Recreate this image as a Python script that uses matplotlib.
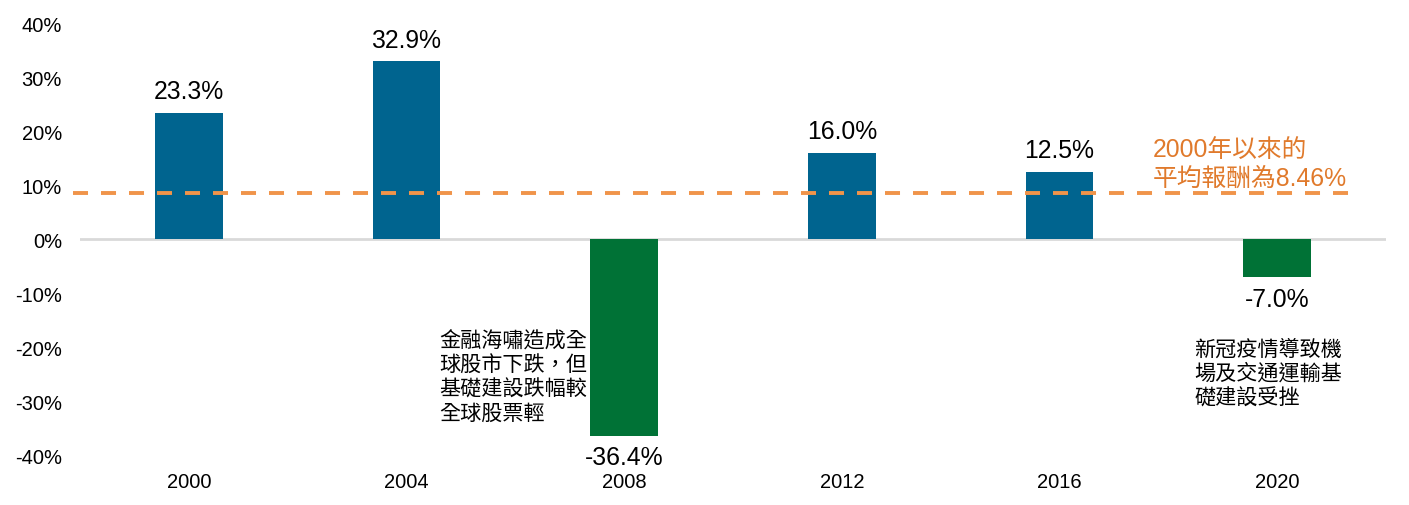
import matplotlib
matplotlib.use('Agg')
import matplotlib.pyplot as plt
import numpy as np

years = ['2000', '2004', '2008', '2012', '2016', '2020']
returns = [23.3, 32.9, -36.4, 16.0, 12.5, -7.0]
avg_return = 8.46
yticks = [-40, -30, -20, -10, 0, 10, 20, 30, 40]

note_2008 = '金融海嘯造成全\n球股市下跌，但\n基礎建設跌幅較\n全球股票輕'
note_2020 = '新冠疫情導致機\n場及交通運輸基\n礎建設受挫'
avg_text = '2000年以來的\n平均報酬為8.46%'

blue = '#00648f'
green = '#007236'
orange_line = '#f0944a'
orange_text = '#e07a2c'

latin = ['Liberation Sans', 'Noto Sans CJK TC']
cjk = ['Noto Sans CJK TC', 'Liberation Sans']

fig = plt.figure(figsize=(14.09, 5.06), dpi=100)
ax = fig.add_axes([80 / 1409, 1 - 456 / 506, 1306 / 1409, 432 / 506])

x = np.arange(len(years))
colors = [blue if v >= 0 else green for v in returns]
ax.bar(x, returns, width=0.31, color=colors, zorder=2)

ax.set_xlim(-0.5, len(years) - 0.5)
ax.set_ylim(-40, 40)

# zero line
ax.axhline(0, color='#d9d9d9', lw=2, zorder=1)

# average dashed line
ax.plot([-0.533, 5.33], [avg_return, avg_return], color=orange_line, lw=2.8,
        dashes=(3.86, 3.34), clip_on=False, zorder=3)

for xi, v in zip(x, returns):
    if v >= 0:
        ax.annotate(f'{v:.1f}%', (xi, v), xytext=(0, 7), textcoords='offset points',
                    ha='center', va='bottom', fontsize=17.8, family=latin)
    else:
        ax.annotate(f'{v:.1f}%', (xi, v), xytext=(0, -7), textcoords='offset points',
                    ha='center', va='top', fontsize=17.8, family=latin)

ax.text(4.43, 14.0, avg_text, color=orange_text, fontsize=17.8, family=latin,
        ha='left', va='center', linespacing=1.25)
ax.text(1.149, -25.5, note_2008, fontsize=15.2, family=cjk, ha='left', va='center',
        linespacing=1.12)
ax.text(4.62, -24.8, note_2020, fontsize=15.2, family=cjk, ha='left', va='center',
        linespacing=1.15)

ax.set_yticks(yticks)
ax.set_yticklabels([f'{t}%' for t in yticks], family=latin, fontsize=14.5)
ax.set_xticks(x)
ax.set_xticklabels(years, family=latin, fontsize=14.5)
ax.tick_params(axis='both', length=0)
ax.tick_params(axis='y', pad=13)
ax.tick_params(axis='x', pad=12)

for s in ax.spines.values():
    s.set_visible(False)

fig.savefig('out.png', dpi=100)
